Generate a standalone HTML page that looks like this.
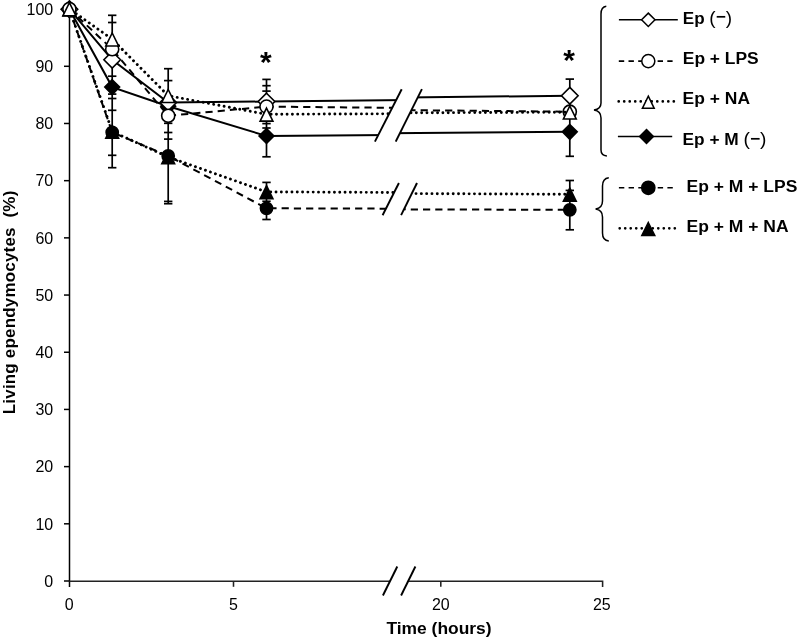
<!DOCTYPE html><html><head><meta charset="utf-8"><style>html,body{margin:0;padding:0;background:#fff;}svg{display:block;}text{font-family:"Liberation Sans",sans-serif;}svg{will-change:transform;}</style></head><body>
<svg width="797" height="641" viewBox="0 0 797 641">
<g stroke="#000" stroke-width="1.5" fill="none">
<line x1="69.5" y1="9" x2="69.5" y2="587"/>
<line x1="64" y1="581.00" x2="69.5" y2="581.00"/>
<line x1="64" y1="523.81" x2="69.5" y2="523.81"/>
<line x1="64" y1="466.62" x2="69.5" y2="466.62"/>
<line x1="64" y1="409.43" x2="69.5" y2="409.43"/>
<line x1="64" y1="352.24" x2="69.5" y2="352.24"/>
<line x1="64" y1="295.05" x2="69.5" y2="295.05"/>
<line x1="64" y1="237.86" x2="69.5" y2="237.86"/>
<line x1="64" y1="180.67" x2="69.5" y2="180.67"/>
<line x1="64" y1="123.48" x2="69.5" y2="123.48"/>
<line x1="64" y1="66.29" x2="69.5" y2="66.29"/>
<line x1="64" y1="9.10" x2="69.5" y2="9.10"/>
</g>
<g stroke="#222" stroke-width="1.55" fill="none">
<path d="M69.5 581.2H602.6V587"/>
<line x1="233.5" y1="581" x2="233.5" y2="586.8"/>
<line x1="440.8" y1="581" x2="440.8" y2="586.8"/>
</g>
<g font-size="17.4" fill="#000" text-anchor="end">
<text transform="translate(53.2 586.80) scale(0.92 1)">0</text>
<text transform="translate(53.2 529.61) scale(0.92 1)">10</text>
<text transform="translate(53.2 472.42) scale(0.92 1)">20</text>
<text transform="translate(53.2 415.23) scale(0.92 1)">30</text>
<text transform="translate(53.2 358.04) scale(0.92 1)">40</text>
<text transform="translate(53.2 300.85) scale(0.92 1)">50</text>
<text transform="translate(53.2 243.66) scale(0.92 1)">60</text>
<text transform="translate(53.2 186.47) scale(0.92 1)">70</text>
<text transform="translate(53.2 129.28) scale(0.92 1)">80</text>
<text transform="translate(53.2 72.09) scale(0.92 1)">90</text>
<text transform="translate(53.2 14.90) scale(0.92 1)">100</text>
</g>
<g font-size="17.4" fill="#000" text-anchor="middle">
<text transform="translate(69.2 609.5) scale(0.92 1)">0</text>
<text transform="translate(233.5 609.5) scale(0.92 1)">5</text>
<text transform="translate(440.8 609.5) scale(0.92 1)">20</text>
<text transform="translate(601.8 609.5) scale(0.92 1)">25</text>
</g>
<text x="386.4" y="634.1" font-size="16.5" font-weight="bold" textLength="105.2" lengthAdjust="spacingAndGlyphs">Time (hours)</text>
<text transform="translate(14.6 414.2) rotate(-90)" font-size="17" font-weight="bold" xml:space="preserve" textLength="223.5" lengthAdjust="spacing">Living ependymocytes  (%)</text>
<g stroke="#000" stroke-width="1.7" fill="none">
<line x1="112.2" y1="15.3" x2="112.2" y2="167.7"/>
<line x1="108.0" y1="15.3" x2="116.4" y2="15.3"/>
<line x1="108.0" y1="22.5" x2="116.4" y2="22.5"/>
<line x1="108.0" y1="76.2" x2="116.4" y2="76.2"/>
<line x1="108.0" y1="94.1" x2="116.4" y2="94.1"/>
<line x1="108.0" y1="98.5" x2="116.4" y2="98.5"/>
<line x1="108.0" y1="110.3" x2="116.4" y2="110.3"/>
<line x1="108.0" y1="155.3" x2="116.4" y2="155.3"/>
<line x1="108.0" y1="167.7" x2="116.4" y2="167.7"/>
<line x1="168.2" y1="68.7" x2="168.2" y2="203.7"/>
<line x1="164.0" y1="68.7" x2="172.4" y2="68.7"/>
<line x1="164.0" y1="80.6" x2="172.4" y2="80.6"/>
<line x1="164.0" y1="123.3" x2="172.4" y2="123.3"/>
<line x1="164.0" y1="132.5" x2="172.4" y2="132.5"/>
<line x1="164.0" y1="139.1" x2="172.4" y2="139.1"/>
<line x1="164.0" y1="201.4" x2="172.4" y2="201.4"/>
<line x1="164.0" y1="203.7" x2="172.4" y2="203.7"/>
<line x1="266.5" y1="79.4" x2="266.5" y2="156.8"/>
<line x1="266.5" y1="182.4" x2="266.5" y2="219.5"/>
<line x1="262.3" y1="79.4" x2="270.7" y2="79.4"/>
<line x1="262.3" y1="85.7" x2="270.7" y2="85.7"/>
<line x1="262.3" y1="91.1" x2="270.7" y2="91.1"/>
<line x1="262.3" y1="123.6" x2="270.7" y2="123.6"/>
<line x1="262.3" y1="128.0" x2="270.7" y2="128.0"/>
<line x1="262.3" y1="156.8" x2="270.7" y2="156.8"/>
<line x1="262.3" y1="182.4" x2="270.7" y2="182.4"/>
<line x1="262.3" y1="201.3" x2="270.7" y2="201.3"/>
<line x1="262.3" y1="219.5" x2="270.7" y2="219.5"/>
<line x1="569.8" y1="79.1" x2="569.8" y2="156.3"/>
<line x1="569.8" y1="180.5" x2="569.8" y2="229.8"/>
<line x1="565.6" y1="79.1" x2="574.0" y2="79.1"/>
<line x1="565.6" y1="156.3" x2="574.0" y2="156.3"/>
<line x1="565.6" y1="180.5" x2="574.0" y2="180.5"/>
<line x1="565.6" y1="190.4" x2="574.0" y2="190.4"/>
<line x1="565.6" y1="229.8" x2="574.0" y2="229.8"/>
</g>
<polyline points="69.40,9.20 112.20,87.10 168.20,106.20 266.50,136.00 390.68,135.02" fill="none" stroke="#000" stroke-width="2.0"/>
<polyline points="387.68,133.28 569.80,131.85" fill="none" stroke="#000" stroke-width="2.0"/>
<path d="M69.40 1.80L76.80 9.20L69.40 16.60L62.00 9.20Z" fill="#000" stroke="#000" stroke-width="1.6"/>
<path d="M112.20 79.70L119.60 87.10L112.20 94.50L104.80 87.10Z" fill="#000" stroke="#000" stroke-width="1.6"/>
<path d="M168.20 98.80L175.60 106.20L168.20 113.60L160.80 106.20Z" fill="#000" stroke="#000" stroke-width="1.6"/>
<path d="M266.50 128.60L273.90 136.00L266.50 143.40L259.10 136.00Z" fill="#000" stroke="#000" stroke-width="1.6"/>
<path d="M569.80 124.45L577.20 131.85L569.80 139.25L562.40 131.85Z" fill="#000" stroke="#000" stroke-width="1.6"/>
<polyline points="69.40,9.20 112.20,132.30 168.20,155.90 266.50,208.30 396.41,208.68" fill="none" stroke="#000" stroke-width="2.0" stroke-dasharray="7.2 5.05" stroke-dashoffset="0.90"/>
<polyline points="393.41,209.33 569.80,209.85" fill="none" stroke="#000" stroke-width="2.0" stroke-dasharray="7.2 5.05" stroke-dashoffset="7.15"/>
<circle cx="69.40" cy="9.20" r="6.1" fill="#000" stroke="#000" stroke-width="1.6"/>
<circle cx="112.20" cy="132.30" r="6.1" fill="#000" stroke="#000" stroke-width="1.6"/>
<circle cx="168.20" cy="155.90" r="6.1" fill="#000" stroke="#000" stroke-width="1.6"/>
<circle cx="266.50" cy="208.30" r="6.1" fill="#000" stroke="#000" stroke-width="1.6"/>
<circle cx="569.80" cy="209.85" r="6.1" fill="#000" stroke="#000" stroke-width="1.6"/>
<polyline points="69.40,9.20 112.20,131.50 168.20,157.00 266.50,191.90 404.40,192.53" fill="none" stroke="#000" stroke-dasharray="0.01 5.3" stroke-linecap="round" stroke-width="2.9" stroke-dashoffset="3.04"/>
<polyline points="401.40,193.53 569.80,194.30" fill="none" stroke="#000" stroke-dasharray="0.01 5.3" stroke-linecap="round" stroke-width="2.9" stroke-dashoffset="1.30"/>
<path d="M69.40 3.00L75.80 16.00L63.00 16.00Z" fill="#000" stroke="#000" stroke-width="1.6" stroke-linejoin="miter"/>
<path d="M112.20 125.30L118.60 138.30L105.80 138.30Z" fill="#000" stroke="#000" stroke-width="1.6" stroke-linejoin="miter"/>
<path d="M168.20 150.80L174.60 163.80L161.80 163.80Z" fill="#000" stroke="#000" stroke-width="1.6" stroke-linejoin="miter"/>
<path d="M266.50 185.70L272.90 198.70L260.10 198.70Z" fill="#000" stroke="#000" stroke-width="1.6" stroke-linejoin="miter"/>
<path d="M569.80 188.10L576.20 201.10L563.40 201.10Z" fill="#000" stroke="#000" stroke-width="1.6" stroke-linejoin="miter"/>
<polyline points="69.40,9.20 112.20,59.80 168.20,102.60 266.50,101.50 408.55,99.94" fill="none" stroke="#000" stroke-width="2.0"/>
<polyline points="405.55,97.51 569.80,95.70" fill="none" stroke="#000" stroke-width="2.0"/>
<path d="M69.40 0.90L77.70 9.20L69.40 17.50L61.10 9.20Z" fill="#fff" stroke="#000" stroke-width="1.6"/>
<path d="M112.20 51.50L120.50 59.80L112.20 68.10L103.90 59.80Z" fill="#fff" stroke="#000" stroke-width="1.6"/>
<path d="M168.20 94.30L176.50 102.60L168.20 110.90L159.90 102.60Z" fill="#fff" stroke="#000" stroke-width="1.6"/>
<path d="M266.50 93.20L274.80 101.50L266.50 109.80L258.20 101.50Z" fill="#fff" stroke="#000" stroke-width="1.6"/>
<path d="M569.80 87.40L578.10 95.70L569.80 104.00L561.50 95.70Z" fill="#fff" stroke="#000" stroke-width="1.6"/>
<polyline points="69.40,9.00 112.20,49.20 168.20,115.80 266.50,106.60 403.21,107.92" fill="none" stroke="#000" stroke-width="2.0" stroke-dasharray="7.2 5.05" stroke-dashoffset="0.60"/>
<polyline points="400.21,110.06 569.80,111.70" fill="none" stroke="#000" stroke-width="2.0" stroke-dasharray="7.2 5.05" stroke-dashoffset="4.10"/>
<circle cx="69.40" cy="9.00" r="6.55" fill="#fff" stroke="#000" stroke-width="1.6"/>
<circle cx="112.20" cy="49.20" r="6.55" fill="#fff" stroke="#000" stroke-width="1.6"/>
<circle cx="168.20" cy="115.80" r="6.55" fill="#fff" stroke="#000" stroke-width="1.6"/>
<circle cx="266.50" cy="106.60" r="6.55" fill="#fff" stroke="#000" stroke-width="1.6"/>
<circle cx="569.80" cy="111.70" r="6.55" fill="#fff" stroke="#000" stroke-width="1.6"/>
<polyline points="69.40,8.90 112.20,39.20 168.20,95.70 266.50,114.30 401.14,113.76" fill="none" stroke="#000" stroke-dasharray="0.01 5.3" stroke-linecap="round" stroke-width="2.9" stroke-dashoffset="2.26"/>
<polyline points="398.14,112.88 569.80,112.20" fill="none" stroke="#000" stroke-dasharray="0.01 5.3" stroke-linecap="round" stroke-width="2.9" stroke-dashoffset="3.04"/>
<path d="M69.40 2.70L75.80 15.70L63.00 15.70Z" fill="#fff" stroke="#000" stroke-width="1.6" stroke-linejoin="miter"/>
<path d="M112.20 33.00L118.60 46.00L105.80 46.00Z" fill="#fff" stroke="#000" stroke-width="1.6" stroke-linejoin="miter"/>
<path d="M168.20 89.50L174.60 102.50L161.80 102.50Z" fill="#fff" stroke="#000" stroke-width="1.6" stroke-linejoin="miter"/>
<path d="M266.50 108.10L272.90 121.10L260.10 121.10Z" fill="#fff" stroke="#000" stroke-width="1.6" stroke-linejoin="miter"/>
<path d="M569.80 106.00L576.20 119.00L563.40 119.00Z" fill="#fff" stroke="#000" stroke-width="1.6" stroke-linejoin="miter"/>
<path d="M374.9 141.6L401.7 89.2L421.9 89.2L395.7 141.6Z" fill="#fff"/><g stroke="#000" stroke-width="1.9"><line x1="374.9" y1="141.6" x2="401.7" y2="89.2"/><line x1="395.7" y1="141.6" x2="421.9" y2="89.2"/></g>
<path d="M382.6 215.2L398.9 183.0L417.0 183.0L401.1 215.2Z" fill="#fff"/><g stroke="#000" stroke-width="1.9"><line x1="382.6" y1="215.2" x2="398.9" y2="183.0"/><line x1="401.1" y1="215.2" x2="417.0" y2="183.0"/></g>
<path d="M382.9 595.5L397.3 566.5L415.4 566.5L401.1 595.5Z" fill="#fff"/><g stroke="#000" stroke-width="1.9"><line x1="382.9" y1="595.5" x2="397.3" y2="566.5"/><line x1="401.1" y1="595.5" x2="415.4" y2="566.5"/></g>
<g font-size="30" font-weight="bold" text-anchor="middle">
<text x="265.9" y="72.4">*</text>
<text x="569.0" y="69.6">*</text>
</g>
<line x1="618.9" y1="19.8" x2="677.8" y2="19.8" stroke="#000" stroke-width="1.6"/>
<path d="M648.30 13.10L655.00 19.80L648.30 26.50L641.60 19.80Z" fill="#fff" stroke="#000" stroke-width="1.5"/>
<text x="682.8" y="23.5" font-size="15.8" font-weight="bold" textLength="49.2" lengthAdjust="spacingAndGlyphs">Ep <tspan font-weight="normal" font-size="17.6">(</tspan><tspan dy="-1.1">−</tspan><tspan dy="1.1" font-weight="normal" font-size="17.6">)</tspan></text>
<line x1="618.8" y1="61.1" x2="672.6" y2="61.1" stroke="#000" stroke-width="1.6" stroke-dasharray="5.4 4.3"/>
<circle cx="648.30" cy="61.10" r="6.55" fill="#fff" stroke="#000" stroke-width="1.5"/>
<text x="682.8" y="64.0" font-size="15.8" font-weight="bold" textLength="75.9" lengthAdjust="spacingAndGlyphs">Ep + LPS</text>
<line x1="618.7" y1="101.4" x2="675.4" y2="101.4" stroke="#000" stroke-dasharray="0.01 5.5" stroke-linecap="round" stroke-width="2.7"/>
<path d="M648.30 96.20L654.20 108.30L642.40 108.30Z" fill="#fff" stroke="#000" stroke-width="1.5" stroke-linejoin="miter"/>
<text x="682.6" y="104.4" font-size="15.8" font-weight="bold" textLength="67.4" lengthAdjust="spacingAndGlyphs">Ep + NA</text>
<line x1="617.9" y1="136.5" x2="672.2" y2="136.5" stroke="#000" stroke-width="1.6"/>
<path d="M646.50 129.60L653.40 136.50L646.50 143.40L639.60 136.50Z" fill="#000" stroke="#000" stroke-width="1.5"/>
<text x="682.6" y="144.8" font-size="15.8" font-weight="bold" textLength="83.9" lengthAdjust="spacingAndGlyphs">Ep + M <tspan font-weight="normal" font-size="17.6">(</tspan><tspan dy="-1.1">−</tspan><tspan dy="1.1" font-weight="normal" font-size="17.6">)</tspan></text>
<line x1="618.9" y1="187.8" x2="672.8" y2="187.8" stroke="#000" stroke-width="1.6" stroke-dasharray="5.4 4.3"/>
<circle cx="648.30" cy="187.80" r="6.6" fill="#000" stroke="#000" stroke-width="1.5"/>
<text x="686.6" y="192.0" font-size="15.8" font-weight="bold" textLength="110.7" lengthAdjust="spacingAndGlyphs">Ep + M + LPS</text>
<line x1="619.7" y1="228.3" x2="675.2" y2="228.3" stroke="#000" stroke-dasharray="0.01 5.5" stroke-linecap="round" stroke-width="2.7"/>
<path d="M648.30 222.50L654.80 235.40L641.80 235.40Z" fill="#000" stroke="#000" stroke-width="1.5" stroke-linejoin="miter"/>
<text x="686.6" y="231.7" font-size="15.8" font-weight="bold" textLength="102.0" lengthAdjust="spacingAndGlyphs">Ep + M + NA</text>
<g fill="none" stroke="#000" stroke-width="1.5">
<path d="M606.3 6.3Q601 7 601 14V103Q601 109 594 110.1Q601 111 601 118V150Q601 155.5 606.9 155.9"/>
<path d="M608.8 177.8Q602.5 178.5 602.5 186V201Q602.5 208 595.6 209.1Q602.5 210 602.5 217V233Q602.5 240.5 608.8 240.9"/>
</g>
</svg></body></html>
